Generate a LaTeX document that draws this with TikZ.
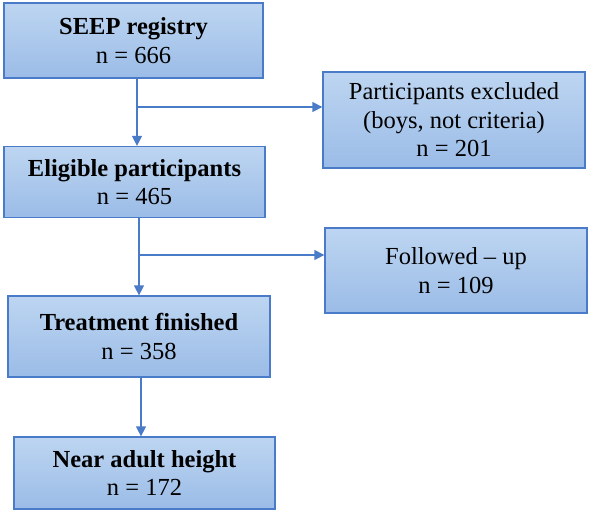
\documentclass[tikz,border=0pt]{standalone}
\usepackage{fontspec}
\setmainfont{Liberation Serif}
\usetikzlibrary{arrows.meta}
\definecolor{boxtop}{HTML}{BDD5F1}
\definecolor{boxbot}{HTML}{9BBCE7}
\definecolor{boxline}{HTML}{4A7BC8}
\begin{document}
\begin{tikzpicture}[x=1pt,y=-1pt,
  box/.style={draw=boxline,line width=1.3pt,top color=boxtop,bottom color=boxbot,
    align=center,inner sep=0pt,font=\fontsize{24.5}{28.5}\selectfont},
  link/.style={draw=boxline,line width=1.3pt,-{Triangle[length=10pt,width=10pt]}}]
\useasboundingbox (0,0) rectangle (590,512);
% left column
\node[box,minimum width=259pt,minimum height=75pt] (seep) at (133.5,40.5) {\textbf{SEEP registry}\\n = 666};
\node[box,minimum width=261pt,minimum height=71pt] (elig) at (134.5,182) {\textbf{Eligible participants}\\n = 465};
\node[box,minimum width=262pt,minimum height=81pt] (treat) at (139,336.5) {\textbf{Treatment finished}\\n = 358};
\node[box,minimum width=261pt,minimum height=72pt] (near) at (144.5,473) {\textbf{Near adult height}\\n = 172};
% right column
\node[box,minimum width=262pt,minimum height=96pt] (excl) at (454,120) {Participants excluded\\(boys, not criteria)\\n = 201};
\node[box,minimum width=262pt,minimum height=85pt] (follow) at (456,270.5) {Followed -- up\\n = 109};
% branch points
\coordinate (j1) at (137,107);
\coordinate (j2) at (139,255);
\coordinate (j3) at (141,400);
% lines
\draw[link] (seep.south -| j1) -- (elig.north -| j1);
\draw[link] (j1) -- (j1 -| excl.west);
\draw[link] (elig.south -| j2) -- (treat.north -| j2);
\draw[link] (j2) -- (j2 -| follow.west);
\draw[link] (treat.south -| j3) -- (near.north -| j3);
\end{tikzpicture}
\end{document}
